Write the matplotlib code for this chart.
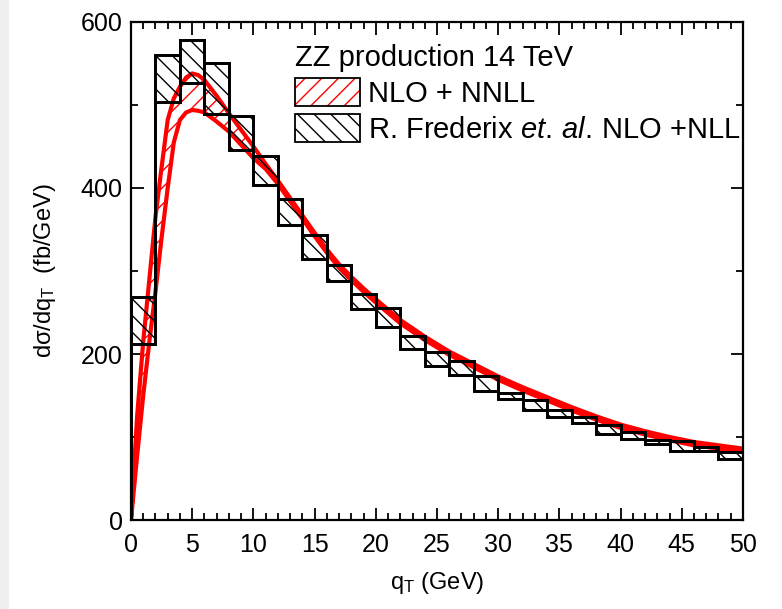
import numpy as np
import matplotlib
matplotlib.use('Agg')
import matplotlib.pyplot as plt
from matplotlib.patches import Patch, Rectangle
from matplotlib.legend_handler import HandlerTuple
from matplotlib.ticker import MultipleLocator

plt.rcParams.update({
    'font.family': ['Liberation Sans', 'DejaVu Sans'],
    'font.size': 17,
    'mathtext.fontset': 'custom',
    'mathtext.rm': 'Liberation Sans',
    'mathtext.it': 'Liberation Sans:italic',
    'mathtext.default': 'regular',
    'hatch.linewidth': 1.0,
})

# Frederix et al. NLO+NLL band, 2 GeV bins (lower / upper edge)
bin_edges = np.arange(0, 52, 2)
hist_low = [212, 504, 527, 489, 446, 404, 355, 315, 288, 254,
            233, 206, 186, 175, 156, 146, 133, 124, 117, 104,
            98, 92, 83, 83, 73]
hist_high = [269, 560, 578, 550, 487, 438, 387, 343, 307, 272,
             256, 222, 203, 191, 173, 153, 144, 133, 124, 114,
             106, 97, 95, 88, 82]

# NLO+NNLL band
qt = [0, 0.5, 1, 1.5, 2, 2.5, 3, 3.5, 4, 4.5, 5, 5.5, 6, 7, 8, 9, 10,
      11, 12, 13, 14, 15, 16, 17, 18, 19, 20, 22, 24, 26, 28, 30,
      32, 34, 36, 38, 40, 42, 44, 46, 48, 50]
nnll_high = [0, 125, 215, 290, 365, 425, 482, 508, 522, 533, 538, 536, 530,
             511, 490, 470, 450, 429, 409, 388, 367, 346, 326, 308, 293,
             279, 266, 241, 221, 203, 188, 173, 160, 148, 136, 125, 115,
             107, 100, 94, 90, 86]
nnll_low = [0, 77, 150, 215, 275, 340, 400, 455, 482, 491, 494, 493, 491,
            480, 468, 452, 436, 423, 405, 384, 363, 342, 322, 304, 289,
            275, 262, 237, 217, 199, 184, 169, 156, 144, 132, 121, 111,
            103, 96, 90, 86, 82]

fig = plt.figure(figsize=(7.82, 6.09), dpi=100)
fig.patches.append(Rectangle((0, 0), 9 / 782, 1, transform=fig.transFigure,
                             facecolor='#efefef', edgecolor='none', zorder=-5))
ax = fig.add_axes([0.1675, 0.1461, 0.7826, 0.8178])

# red theory band
ax.fill_between(qt, nnll_low, nnll_high, facecolor='none', edgecolor='red',
                hatch='//', linewidth=3, zorder=2)

# black hatched boxes
lo = np.array(hist_low)
hi = np.array(hist_high)
centers = (bin_edges[:-1] + bin_edges[1:]) / 2
ax.bar(centers, hi - lo, bottom=lo, width=2, facecolor='none',
       edgecolor='black', hatch='\\\\', linewidth=2, zorder=3)
ax.stairs(lo, bin_edges, color='black', linewidth=2, zorder=3)
ax.stairs(hi, bin_edges, color='black', linewidth=2, zorder=3)

ax.set_xlim(0, 50)
ax.set_ylim(0, 600)
ax.xaxis.set_major_locator(MultipleLocator(5))
ax.xaxis.set_minor_locator(MultipleLocator(1))
ax.yaxis.set_major_locator(MultipleLocator(200))
ax.yaxis.set_minor_locator(MultipleLocator(100))
ax.tick_params(which='both', direction='in', top=True, right=True,
               width=1.3, labelsize=18)
ax.tick_params(which='major', length=9)
ax.tick_params(which='minor', length=5)
ax.tick_params(axis='x', which='major', pad=9)
ax.tick_params(axis='y', which='major', pad=6)
for sp in ax.spines.values():
    sp.set_linewidth(1.6)

ax.set_xlabel('q$_T$ (GeV)', fontsize=17, labelpad=10)
ax.set_ylabel('dσ/dq$_T$  (fb/GeV)', fontsize=17, labelpad=16)

red_handle = (Patch(facecolor='white', edgecolor='red', hatch='//', linewidth=0),
              Patch(facecolor='none', edgecolor='black', linewidth=1.3))
black_handle = Patch(facecolor='white', edgecolor='black', hatch='\\\\',
                     linewidth=1.3)
leg = ax.legend([red_handle, black_handle],
                ['NLO + NNLL',
                 'R. Frederix $\\mathit{et.}\\/\\mathit{al.}\\/$NLO +NLL'],
                handler_map={tuple: HandlerTuple(ndivide=1)},
                title='ZZ production 14 TeV', title_fontsize=21, fontsize=21,
                loc='upper left', bbox_to_anchor=(0.268, 0.955),
                frameon=False, alignment='left', handlelength=2.23,
                handleheight=1.1, handletextpad=0.28, labelspacing=0.2,
                borderaxespad=0, borderpad=0)
leg.set_zorder(5)

fig.savefig('out.png', dpi=100)
